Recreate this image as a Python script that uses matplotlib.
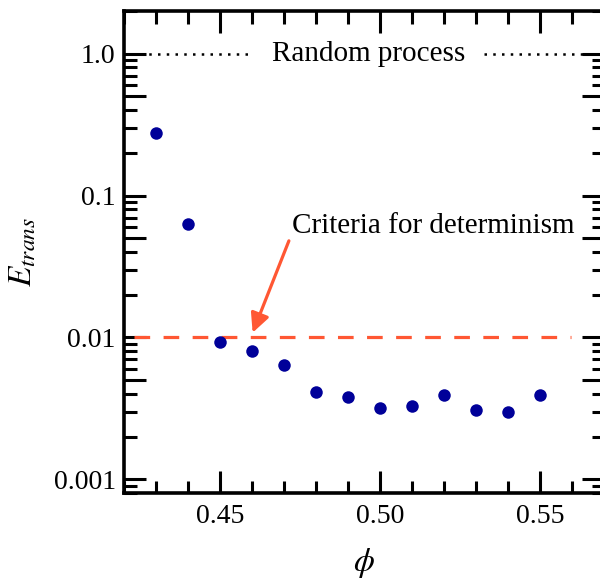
import matplotlib
matplotlib.use("Agg")
import matplotlib.pyplot as plt
import numpy as np
from matplotlib.ticker import FixedLocator, NullFormatter

phi = [0.43, 0.44, 0.45, 0.46, 0.47, 0.48, 0.49, 0.50, 0.51, 0.52, 0.53, 0.54, 0.55]
e_trans = [0.277, 0.063, 0.0093, 0.0080, 0.0064, 0.0041, 0.0038, 0.0032, 0.0033, 0.0039, 0.0031, 0.0030, 0.0039]
random_level = 1.0
criteria_level = 0.01
xticks = [0.45, 0.50, 0.55]
xtick_labels = ["0.45", "0.50", "0.55"]
yticks = [0.001, 0.01, 0.1, 1.0]
ytick_labels = ["0.001", "0.01", "0.1", "1.0"]

plt.rcParams['font.family'] = ['Liberation Serif', 'DejaVu Serif']
plt.rcParams['mathtext.fontset'] = 'stix'

fig = plt.figure(figsize=(6.0, 5.83), dpi=100)
ax = fig.add_axes([124/600, 1-493/583, 480/600, (493-11)/583])

ax.set_yscale('log')
ax.set_xlim(0.42, 0.57)
ax.set_ylim(0.0008, 2.0)

red = '#FF5733'
blue = '#000099'

# Random process dotted line, broken around the label
ax.plot([0.425, 0.4594], [random_level, random_level], color='black', lw=1.8,
        linestyle=(0, (1, 2.5)))
ax.plot([0.5326, 0.57], [random_level, random_level], color='black', lw=1.8,
        linestyle=(0, (1, 2.5)))
ax.text(0.4966, random_level, 'Random process', ha='center', va='center', fontsize=21)

# Criteria line
ax.plot([0.423, 0.5597], [criteria_level, criteria_level], color=red, lw=2.3,
        dashes=(4.9, 4.2))

ax.annotate('Criteria for determinism', xy=(0.4602, 0.0108), xytext=(0.4724, 0.061),
            fontsize=21, ha='left', va='center', color='black',
            arrowprops=dict(arrowstyle='-|>,head_length=0.55,head_width=0.27',
                            color=red, lw=2.3, shrinkA=0, shrinkB=0,
                            relpos=(0, 0.2)))

ax.plot(phi, e_trans, 'o', color=blue, markersize=9, markeredgewidth=0, zorder=5)

# ticks
ax.xaxis.set_major_locator(FixedLocator(xticks))
ax.set_xticklabels(xtick_labels)
ax.xaxis.set_minor_locator(FixedLocator(np.arange(0.42, 0.5701, 0.01)))
ax.yaxis.set_major_locator(FixedLocator(yticks))
ax.set_yticklabels(ytick_labels)
minors = []
for d in [0.0001, 0.001, 0.01, 0.1, 1.0]:
    for m in range(2, 10):
        if m != 5:
            minors.append(d * m)
ax.yaxis.set_minor_locator(FixedLocator(minors))
ax.yaxis.set_minor_formatter(NullFormatter())

ax.tick_params(which='major', direction='in', length=16, width=2.2,
               top=True, right=True, labelsize=20, pad=6)
ax.tick_params(which='minor', direction='in', length=9, width=2.2,
               top=True, right=True)
ax.tick_params(axis='x', which='major', pad=8)

# medium-length ticks at 5 x decade
mid = [0.005, 0.05, 0.5]
for side in ['left', 'right']:
    sec = ax.secondary_yaxis(side)
    sec.set_yticks(mid)
    sec.set_yticklabels([])
    sec.tick_params(which='major', direction='in', length=16, width=2.2)
    sec.tick_params(which='minor', length=0)
    sec.spines[side].set_visible(False)

for s in ax.spines.values():
    s.set_linewidth(2.6)

ax.set_xlabel(r'$\phi$', fontsize=24, labelpad=12)
ax.set_ylabel(r'$E_{trans}$', fontsize=24, labelpad=11)

fig.savefig('out.png', dpi=100)
